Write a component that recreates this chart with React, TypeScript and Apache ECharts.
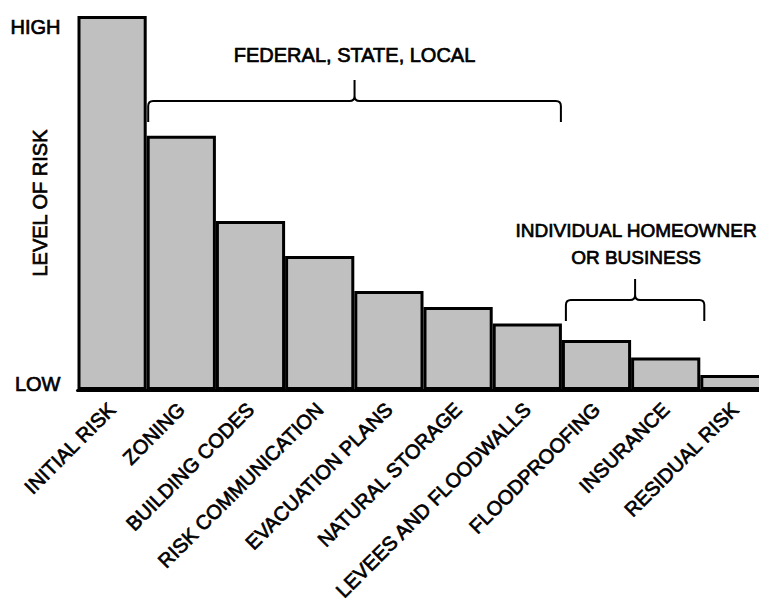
import React, { useEffect, useRef } from "react";
import * as echarts from "echarts";

const categories = [
  "INITIAL RISK",
  "ZONING",
  "BUILDING CODES",
  "RISK COMMUNICATION",
  "EVACUATION PLANS",
  "NATURAL STORAGE",
  "LEVEES AND FLOODWALLS",
  "FLOODPROOFING",
  "INSURANCE",
  "RESIDUAL RISK",
];
const riskLevels = [100, 68, 45.2, 35.8, 26.5, 22.2, 17.8, 13.4, 8.7, 4.0];
const yTickLabels = ["LOW", "HIGH"];
const groupLabels = ["FEDERAL, STATE, LOCAL", "INDIVIDUAL HOMEOWNER\nOR BUSINESS"];

const FONT = '"Liberation Sans", Arial, Helvetica, sans-serif';
const FS = 20;

function braceD(x1: number, x2: number, y: number, h: number, r: number) {
  const xm = (x1 + x2) / 2;
  return [
    `M ${x1} ${y + h}`,
    `L ${x1} ${y + r}`,
    `Q ${x1} ${y} ${x1 + r} ${y}`,
    `L ${xm - r} ${y}`,
    `Q ${xm} ${y} ${xm} ${y - r}`,
    `L ${xm} ${y - h}`,
    `M ${xm} ${y - r}`,
    `Q ${xm} ${y} ${xm + r} ${y}`,
    `L ${x2 - r} ${y}`,
    `Q ${x2} ${y} ${x2} ${y + r}`,
    `L ${x2} ${y + h}`,
  ].join(" ");
}

export default function App() {
  const ref = useRef<HTMLDivElement>(null);

  useEffect(() => {
    if (!ref.current) return;
    const chart = echarts.init(ref.current, null, { renderer: "svg" });
    const txt = {
      fontSize: FS,
      color: "#000",
      fontFamily: FONT,
      textBorderColor: "#000",
      textBorderWidth: 0.7,
    };
    const option: any = {
      animation: false,
      backgroundColor: "#ffffff",
      textStyle: { fontFamily: FONT },
      grid: {
        left: 77.5,
        right: -10.5,
        top: 16,
        bottom: 222,
        containLabel: false,
        outerBoundsMode: "none",
      },
      xAxis: {
        type: "category",
        data: categories,
        axisLine: { show: true, lineStyle: { color: "#000", width: 3 } },
        axisTick: { show: false },
        axisLabel: {
          interval: 0,
          rotate: 45,
          ...txt,
          margin: 16,
          padding: [26, 0, 0, 0],
        },
      },
      yAxis: {
        type: "value",
        min: 0,
        max: 100,
        interval: 100,
        name: "LEVEL OF RISK",
        nameLocation: "middle",
        nameRotate: 90,
        nameGap: 28,
        nameMoveOverlap: false,
        nameTextStyle: { ...txt },
        axisLine: { show: false },
        axisTick: { show: false },
        splitLine: { show: false },
        axisLabel: {
          margin: 17,
          formatter: (v: number) => (v === 0 ? `{lo|${yTickLabels[0]}}` : `{hi|${yTickLabels[1]}}`),
          rich: {
            lo: { ...txt, padding: [0, 0, 12, 0] },
            hi: { ...txt, padding: [22, 0, 0, 0] },
          },
        },
      },
      series: [
        {
          type: "bar",
          data: riskLevels,
          barWidth: "100%",
          barCategoryGap: 0,
          itemStyle: { color: "#c0c0c0", borderColor: "#000", borderWidth: 3 },
        },
      ],
    };
    chart.setOption(option);

    const cx = (i: number) => chart.convertToPixel({ xAxisIndex: 0 }, i) as number;
    const bw = cx(1) - cx(0);
    const leftEdge = (i: number) => cx(i) - bw / 2;
    const rightEdge = (i: number) => cx(i) + bw / 2;

    const b1x1 = leftEdge(1) + 1.5;
    const b1x2 = rightEdge(6) - 1;
    const b2x1 = leftEdge(7) + 4;
    const b2x2 = rightEdge(8) + 4;

    echarts.graphic.registerShape(
      "brace1",
      echarts.graphic.extendPath(braceD(b1x1, b1x2, 101, 21, 5), {})
    );
    echarts.graphic.registerShape(
      "brace2",
      echarts.graphic.extendPath(braceD(b2x1, b2x2, 300, 21, 5), {})
    );

    const gtxt = {
      fontFamily: FONT,
      fill: "#000",
      stroke: "#000",
      lineWidth: 0.7,
    };
    chart.setOption({
      graphic: [
        { type: "brace1", x: 0, y: 0, style: { fill: "none", stroke: "#000", lineWidth: 2 } },
        { type: "brace2", x: 0, y: 0, style: { fill: "none", stroke: "#000", lineWidth: 2 } },
        {
          type: "text",
          x: (b1x1 + b1x2) / 2,
          y: 55,
          style: {
            ...gtxt,
            fontSize: FS,
            text: groupLabels[0],
            align: "center",
            verticalAlign: "middle",
          },
        },
        {
          type: "text",
          x: (b2x1 + b2x2) / 2 + 1,
          y: 244,
          style: {
            ...gtxt,
            fontSize: 19,
            text: groupLabels[1],
            lineHeight: 27.5,
            align: "center",
            verticalAlign: "middle",
          },
        },
      ],
    });

    return () => chart.dispose();
  }, []);

  return (
    <div style={{ position: "fixed", left: 0, top: 0, width: 759, height: 612, overflow: "hidden" }}>
      <div ref={ref} style={{ width: 759, height: 612 }} />
    </div>
  );
}
